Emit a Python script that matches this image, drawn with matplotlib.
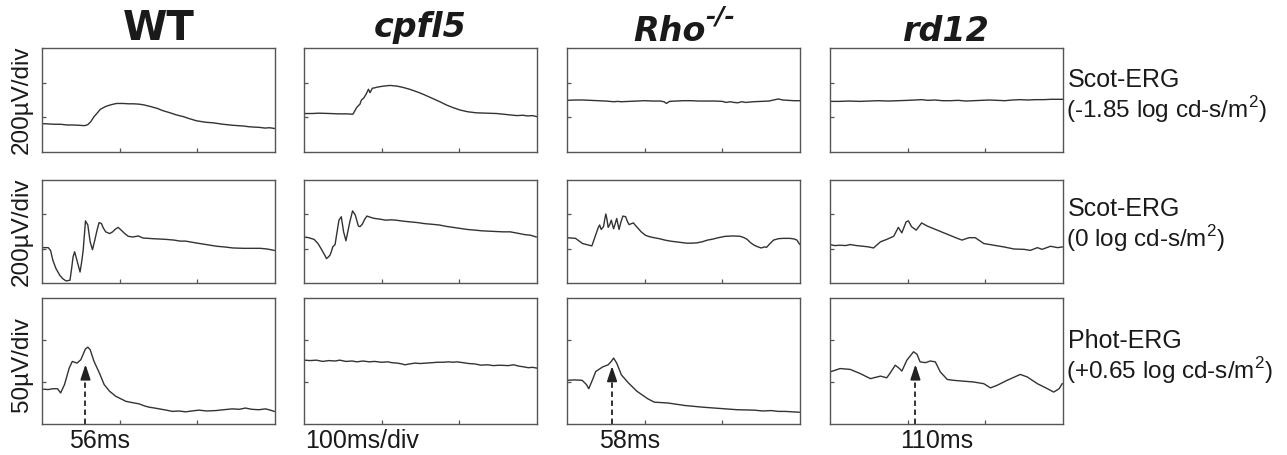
import numpy as np
import matplotlib.pyplot as plt

plt.rcParams['font.family'] = 'Liberation Sans'
plt.rcParams['mathtext.fontset'] = 'custom'
plt.rcParams['mathtext.rm'] = 'Liberation Sans'

# ---- data: time (ms) vs amplitude (in divisions) ----
genotypes = ['WT', 'cpfl5', 'Rho', 'rd12']
row_names = ['Scot-ERG', 'Scot-ERG', 'Phot-ERG']
row_intensity = ['(-1.85 log cd-s/m$^2$)', '(0 log cd-s/m$^2$)', '(+0.65 log cd-s/m$^2$)']
scale_labels = ['200µV/div', '200µV/div', '50µV/div']
time_labels = ['56ms', '100ms/div', '58ms', '110ms']

# row 1: scotopic, -1.85 log cd-s/m2
wt_dim = [(0, 0.82), (8, 0.81), (16, 0.80), (24, 0.80), (32, 0.78), (40, 0.78), (48, 0.77),
          (55, 0.76), (59, 0.79), (63, 0.88), (67, 1.02), (71, 1.12), (75, 1.23), (80, 1.29),
          (84, 1.33), (90, 1.37), (96, 1.40), (104, 1.40), (112, 1.39), (118, 1.39), (125, 1.38),
          (131, 1.36), (140, 1.31), (148, 1.26), (156, 1.19), (165, 1.13), (173, 1.07),
          (182, 1.02), (190, 0.96), (199, 0.90), (210, 0.86), (221, 0.84), (233, 0.80),
          (246, 0.77), (259, 0.75), (266, 0.73), (272, 0.72), (280, 0.71), (287, 0.69),
          (293, 0.70), (299, 0.68)]
cpfl5_dim = [(0, 1.11), (10, 1.11), (20, 1.12), (33, 1.11), (45, 1.10), (55, 1.10), (63, 1.09),
             (68, 1.29), (72, 1.38), (74, 1.50), (77, 1.56), (80, 1.67), (83, 1.81), (85, 1.71),
             (88, 1.84), (91, 1.85), (94, 1.87), (102, 1.90), (111, 1.92), (120, 1.90),
             (128, 1.86), (136, 1.81), (145, 1.74), (154, 1.66), (162, 1.58), (173, 1.47),
             (184, 1.35), (192, 1.28), (201, 1.21), (211, 1.16), (222, 1.13), (235, 1.12),
             (248, 1.11), (261, 1.08), (274, 1.05), (282, 1.06), (288, 1.04), (294, 1.05),
             (300, 1.02)]
rho_dim = [(0, 1.49), (10, 1.50), (20, 1.50), (30, 1.49), (40, 1.48), (50, 1.47), (60, 1.45),
           (65, 1.46), (70, 1.45), (80, 1.46), (90, 1.47), (100, 1.48), (110, 1.47), (120, 1.47),
           (125, 1.45), (128, 1.40), (132, 1.46), (140, 1.47), (150, 1.48), (160, 1.48),
           (170, 1.47), (180, 1.47), (190, 1.47), (200, 1.46), (205, 1.43), (210, 1.45),
           (215, 1.43), (220, 1.42), (225, 1.45), (230, 1.43), (240, 1.45), (250, 1.46),
           (260, 1.47), (268, 1.51), (272, 1.53), (278, 1.50), (285, 1.49), (292, 1.48),
           (300, 1.48)]
rd12_dim = [(0, 1.46), (12, 1.46), (25, 1.47), (38, 1.46), (50, 1.47), (62, 1.48), (75, 1.47),
            (88, 1.48), (100, 1.49), (110, 1.50), (118, 1.51), (126, 1.49), (135, 1.50),
            (145, 1.48), (155, 1.48), (165, 1.49), (175, 1.47), (185, 1.48), (195, 1.49),
            (205, 1.50), (215, 1.49), (225, 1.48), (235, 1.50), (245, 1.51), (255, 1.50),
            (265, 1.51), (275, 1.51), (285, 1.52), (300, 1.52)]

# row 2: scotopic, 0 log cd-s/m2
wt_mid = [(0, 1.03), (8, 1.03), (11, 0.95), (14, 0.66), (18, 0.42), (23, 0.22), (27, 0.12),
          (31, 0.06), (36, 0.08), (38, 0.40), (40, 0.76), (42, 0.91), (45, 0.66), (49, 0.32),
          (51, 0.60), (53, 0.95), (56, 1.81), (59, 1.69), (62, 1.20), (65, 0.97), (68, 1.25),
          (71, 1.55), (73.5, 1.76), (76.5, 1.73), (79, 1.60), (82, 1.49), (87, 1.44), (91, 1.49),
          (94, 1.56), (98, 1.62), (102, 1.54), (106, 1.45), (111, 1.36), (117, 1.34),
          (124, 1.37), (130, 1.31), (137, 1.30), (143, 1.29), (152, 1.28), (160, 1.27),
          (170, 1.25), (178, 1.22), (185, 1.22), (195, 1.18), (203, 1.15), (214, 1.11),
          (225, 1.07), (235, 1.05), (246, 1.02), (260, 1.01), (272, 1.01), (281, 1.01),
          (290, 0.99), (299, 0.95)]
cpfl5_mid = [(0, 1.34), (6, 1.32), (13, 1.27), (18, 1.15), (22, 1.00), (26, 0.84), (29, 0.71),
             (31, 0.75), (33.5, 0.81), (35, 0.90), (37, 1.05), (40, 1.12), (43, 1.55), (45, 1.83),
             (48, 1.93), (51, 1.49), (54, 1.23), (56, 1.45), (59, 1.78), (62.5, 2.10), (66, 1.98),
             (70, 1.66), (72, 1.64), (75, 1.71), (78, 1.85), (81, 1.95), (86, 1.91), (91, 1.88),
             (98, 1.86), (105, 1.83), (112, 1.84), (118.5, 1.83), (128, 1.80), (137, 1.78),
             (146, 1.76), (155, 1.73), (165, 1.71), (174, 1.69), (183, 1.65), (192, 1.62),
             (201, 1.59), (210, 1.56), (220, 1.54), (229, 1.52), (238, 1.51), (247, 1.50),
             (256, 1.49), (265.5, 1.49), (275, 1.45), (284, 1.41), (292, 1.39), (299, 1.34)]
rho_mid = [(0, 1.32), (11, 1.30), (20, 1.15), (32, 1.08), (36, 1.34), (40, 1.60), (42, 1.69),
           (44, 1.56), (47, 1.64), (49, 1.90), (50, 2.01), (51.5, 1.85), (53, 1.62), (55, 1.70),
           (57, 1.83), (58.5, 1.70), (60, 1.58), (62, 1.72), (64, 1.88), (65.5, 1.72), (67, 1.56),
           (69.5, 1.78), (72, 1.95), (75.5, 1.93), (78, 1.78), (80, 1.70), (83, 1.73),
           (85.6, 1.75), (88, 1.68), (91.6, 1.59), (96, 1.48), (101, 1.39), (106, 1.35),
           (112, 1.32), (119, 1.29), (126, 1.25), (133, 1.22), (140, 1.20), (147, 1.18),
           (154, 1.16), (160, 1.16), (167.5, 1.17), (174, 1.20), (181, 1.25), (188, 1.28),
           (195, 1.32), (204, 1.36), (214, 1.37), (223, 1.36), (228, 1.32), (232, 1.27),
           (236, 1.18), (241, 1.10), (245, 1.06), (250, 1.02), (254, 1.05), (257, 1.04),
           (261, 1.14), (266, 1.25), (272, 1.29), (278, 1.30), (287, 1.30), (293, 1.28),
           (296, 1.25), (299.5, 1.13)]
rd12_mid = [(0, 1.12), (6, 1.09), (13, 1.10), (20, 1.09), (26, 1.12), (34, 1.09), (43, 1.07),
            (50, 1.05), (56, 1.02), (65, 1.20), (73, 1.27), (82, 1.36), (88, 1.62), (92.5, 1.46),
            (98, 1.78), (101, 1.81), (105, 1.64), (111, 1.54), (118, 1.75), (125, 1.66),
            (138, 1.54), (151, 1.42), (164, 1.30), (170, 1.25), (179, 1.32), (187, 1.32),
            (198, 1.15), (211, 1.10), (224, 1.05), (237, 0.99), (250, 0.98), (258, 0.95),
            (267, 1.03), (273, 0.98), (284, 1.07), (293, 1.03), (299, 1.05)]

# row 3: photopic, +0.65 log cd-s/m2
wt_phot = [(0, 0.83), (8, 0.82), (14, 0.84), (20, 0.84), (24, 0.74), (29, 0.94), (35, 1.33),
           (39, 1.49), (45, 1.45), (50, 1.53), (56, 1.79), (59, 1.83), (62, 1.77), (67, 1.49),
           (74, 1.21), (80, 0.94), (87, 0.78), (95, 0.66), (108, 0.54), (116, 0.51), (125, 0.48),
           (132, 0.43), (138, 0.40), (145, 0.38), (151, 0.36), (160, 0.33), (168, 0.30),
           (176, 0.31), (185, 0.29), (193, 0.31), (202, 0.33), (212, 0.31), (224, 0.32),
           (234, 0.34), (245, 0.36), (254, 0.35), (262, 0.38), (270, 0.35), (279, 0.34),
           (288, 0.36), (294, 0.33), (299, 0.30)]
cpfl5_phot = [(0, 1.52), (8, 1.51), (16, 1.52), (24, 1.49), (32, 1.51), (40, 1.50), (46, 1.52),
              (54, 1.49), (62, 1.50), (68, 1.48), (76, 1.50), (84, 1.48), (91, 1.49), (100, 1.47),
              (108, 1.48), (113, 1.46), (120, 1.45), (126, 1.43), (130, 1.41), (136, 1.43),
              (143, 1.45), (150, 1.44), (157, 1.45), (165, 1.46), (172, 1.47), (179, 1.47),
              (186, 1.48), (192, 1.47), (197, 1.48), (205, 1.46), (212, 1.44), (220, 1.43),
              (228, 1.40), (236, 1.41), (244, 1.39), (252, 1.40), (263, 1.39), (270, 1.41),
              (276, 1.38), (283, 1.36), (289, 1.34), (294, 1.35), (300, 1.33)]
rho_phot = [(0, 1.04), (10, 1.05), (19.5, 1.04), (25, 0.94), (28, 0.84), (33, 1.06), (37, 1.25),
            (46, 1.36), (53, 1.41), (57, 1.49), (60, 1.57), (64, 1.45), (70, 1.17), (79, 0.98),
            (90, 0.78), (104, 0.60), (112.5, 0.52), (130, 0.50), (152, 0.44), (175, 0.40),
            (197, 0.37), (219, 0.34), (241, 0.33), (252, 0.31), (263, 0.32), (272, 0.30),
            (281, 0.30), (290, 0.29), (299, 0.28)]
rd12_phot = [(0, 1.24), (13, 1.32), (26, 1.30), (39, 1.20), (52, 1.08), (65, 1.14), (73, 1.10),
             (77, 1.20), (84, 1.40), (89.5, 1.32), (92.5, 1.26), (99, 1.52), (107.6, 1.72),
             (112, 1.66), (116, 1.48), (123, 1.46), (129, 1.50), (135.6, 1.48), (142, 1.24),
             (151, 1.06), (159, 1.04), (172, 1.02), (185, 1.00), (198, 0.96), (206.6, 0.86),
             (215, 0.92), (228, 1.04), (245, 1.18), (254, 1.12), (267, 0.96), (280, 0.84),
             (288, 0.76), (295, 0.84), (299, 0.96)]

traces = [[wt_dim, cpfl5_dim, rho_dim, rd12_dim],
          [wt_mid, cpfl5_mid, rho_mid, rd12_mid],
          [wt_phot, cpfl5_phot, rho_phot, rd12_phot]]

# implicit time markers on the photopic row (ms, tip height in div)
arrow_t = [56, None, 58, 110]
arrow_tip = [1.42, None, 1.38, 1.42]

# ---- layout (pixels of a 1287x455 canvas) ----
W, H = 1287, 455
col_left = [42, 304, 567, 830]
col_w = 233
row_top = [48, 180, 298]
row_bot = [152, 283, 424]

fig = plt.figure(figsize=(W / 100, H / 100), dpi=100)
line_col = '#333333'
frame_col = '#555555'
text_col = '#1a1a1a'


def px_rect(x0, top, w, bottom):
    return [x0 / W, 1 - bottom / H, w / W, (bottom - top) / H]


axes = []
for r in range(3):
    row = []
    for c in range(4):
        ax = fig.add_axes(px_rect(col_left[c], row_top[r], col_w, row_bot[r]))
        t, v = zip(*traces[r][c])
        ax.plot(t, v, color=line_col, lw=1.0)
        ax.set_xlim(0, 300)
        ax.set_ylim(0, 3)
        ax.set_xticks([100, 200])
        ax.set_yticks([1, 2])
        ax.tick_params(direction='in', length=3, width=0.9, color=frame_col,
                       labelbottom=False, labelleft=False)
        for s in ax.spines.values():
            s.set_color(frame_col)
            s.set_linewidth(1.0)
        row.append(ax)
    axes.append(row)

# arrows on photopic row
for c in range(4):
    if arrow_t[c] is None:
        continue
    ax = axes[2][c]
    ax.plot([arrow_t[c], arrow_t[c]], [0, arrow_tip[c] - 0.2], color='#222222',
            lw=1.3, ls=(0, (3, 2)))
    ax.annotate('', xy=(arrow_t[c], arrow_tip[c]), xytext=(arrow_t[c], arrow_tip[c] - 0.25),
                arrowprops=dict(arrowstyle='-|>,head_length=0.9,head_width=0.3',
                                color='#222222', lw=1.3, shrinkA=0, shrinkB=0))

# column titles
title_font = dict(family='DejaVu Sans', weight='bold', color=text_col, ha='center',
                  va='baseline')
fig.text((col_left[0] + col_w / 2) / W, 1 - 40 / H, genotypes[0], fontsize=29, **title_font)
fig.text((col_left[1] + col_w / 2) / W, 1 - 37 / H, genotypes[1], fontsize=24,
         style='italic', **title_font)
fig.text((col_left[2] + col_w * 0.44) / W, 1 - 41 / H, genotypes[2], fontsize=24,
         style='italic', **title_font)
fig.text(705 / W, 1 - 24 / H, '-/-', fontsize=18, style='italic', family='DejaVu Sans',
         weight='bold', color=text_col, ha='left', va='baseline')
fig.text((col_left[3] + col_w / 2) / W, 1 - 41 / H, genotypes[3], fontsize=24,
         style='italic', **title_font)

# right-hand condition labels
label_y = [(80, 110), (209, 239), (341, 371)]
for r in range(3):
    fig.text(1068 / W, 1 - label_y[r][0] / H, row_names[r], fontsize=18,
             color=text_col, va='center', ha='left')
    fig.text(1066 / W, 1 - label_y[r][1] / H, row_intensity[r], fontsize=17.5,
             color=text_col, va='center', ha='left')

# left amplitude scale labels
for r in range(3):
    yc = (row_top[r] + row_bot[r]) / 2
    if r == 2:
        yc = 365
    fig.text(22 / W, 1 - yc / H, scale_labels[r], rotation=90, fontsize=17.5,
             color=text_col, va='center', ha='center')

# bottom time labels
label_x = [100, 305, 630, 937]
label_ha = ['center', 'left', 'center', 'center']
for c in range(4):
    fig.text(label_x[c] / W, 1 - 441 / H, time_labels[c], fontsize=18,
             color=text_col, va='center', ha=label_ha[c])

fig.savefig('out.png', dpi=100)
